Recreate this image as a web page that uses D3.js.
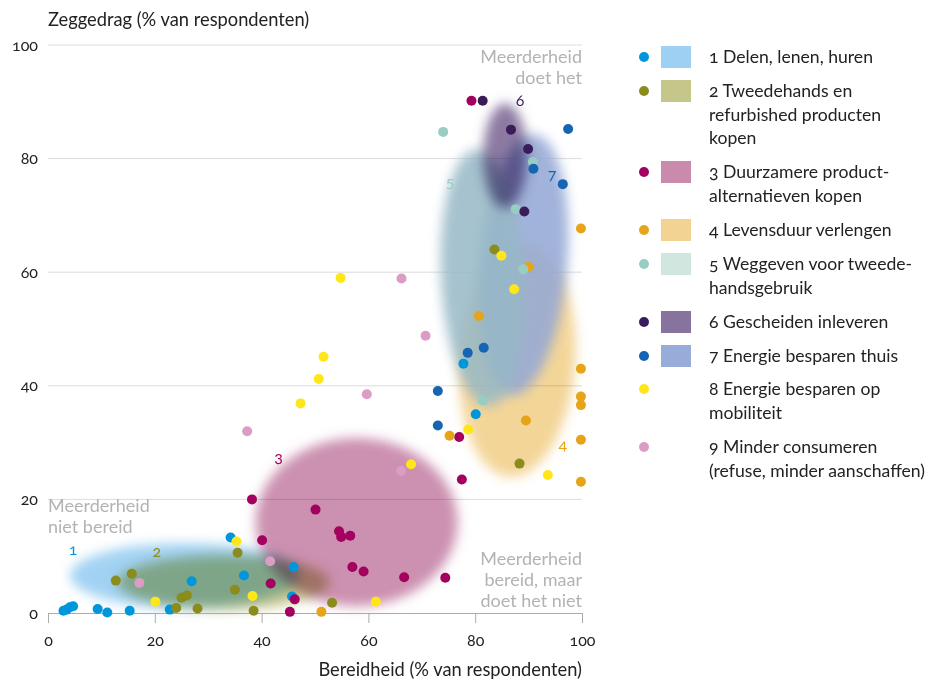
<!DOCTYPE html>
<html>
<head>
<meta charset="utf-8">
<script src="https://cdn.jsdelivr.net/npm/d3@7"></script>
<style>
  body { margin: 0; background: #fff; }
  svg text { font-family: Lato, "Noto Sans", sans-serif; font-variant-numeric: oldstyle-nums; }
</style>
</head>
<body>
<div id="chart"></div>
<script>
// series (x = bereidheid, y = zeggedrag, in %)
var labels = [
  ["1 Delen, lenen, huren"],
  ["2 Tweedehands en", "refurbished producten", "kopen"],
  ["3 Duurzamere product-", "alternatieven kopen"],
  ["4 Levensduur verlengen"],
  ["5 Weggeven voor tweede-", "handsgebruik"],
  ["6 Gescheiden inleveren"],
  ["7 Energie besparen thuis"],
  ["8 Energie besparen op", "mobiliteit"],
  ["9 Minder consumeren", "(refuse, minder aanschaffen)"]
];
var dotColors = ["#0096db", "#8b8c1e", "#a3005f", "#e6a519", "#9acdc2", "#3b1c5a", "#1565b2", "#ffe619", "#dd9cc4"];
var swatchColors = ["#9dd0f3", "#c5c68a", "#c98aac", "#f3d393", "#d0e6df", "#86739e", "#97acd8", null, null];

var delen = [[2.9,0.4],[3.5,0.6],[4.1,1.0],[4.7,1.2],[9.3,0.7],[11.1,0.1],[15.3,0.4],[22.8,0.6],[26.9,5.6],[34.2,13.3],[36.7,6.6],[46.0,8.1],[45.7,2.9],[77.8,43.9],[80.1,35.0]];
var tweedehands = [[12.7,5.7],[15.7,6.9],[24.0,0.9],[25.0,2.7],[26.0,3.1],[28.0,0.8],[35.5,10.6],[35.0,4.1],[38.5,0.4],[53.2,1.8],[83.6,64.0],[88.3,26.3]];
var duurzamer = [[38.2,20.0],[50.1,18.2],[54.5,14.4],[54.9,13.4],[56.6,13.6],[40.1,12.8],[57.0,8.1],[59.1,7.3],[41.7,5.2],[46.2,2.4],[45.3,0.2],[66.7,6.3],[74.4,6.2],[77.0,31.0],[77.5,23.5],[79.3,90.2]];
var levensduur = [[99.8,67.7],[90.0,60.9],[80.7,52.3],[99.8,43.0],[99.8,38.1],[99.8,36.6],[89.5,33.9],[75.2,31.2],[99.8,30.5],[99.8,23.1],[51.2,0.2]];
var weggeven = [[74.0,84.7],[90.8,79.4],[87.6,71.1],[89.0,60.5],[81.4,37.4]];
var gescheiden = [[81.4,90.2],[86.7,85.1],[89.9,81.7],[89.2,70.7]];
var energieThuis = [[97.4,85.2],[90.9,78.2],[96.4,75.5],[78.6,45.8],[81.6,46.7],[73.0,39.1],[73.0,33.0]];
var mobiliteit = [[20.1,2.0],[35.3,12.6],[38.3,3.0],[61.4,2.0],[47.3,36.9],[50.7,41.2],[51.6,45.1],[54.8,59.0],[68.0,26.2],[78.7,32.3],[84.9,62.9],[87.3,57.0],[93.6,24.3]];
var minder = [[17.1,5.3],[41.6,9.1],[37.3,32.0],[59.7,38.5],[66.1,25.0],[70.7,48.8],[66.2,58.9]];
var series = [delen, tweedehands, duurzamer, levensduur, weggeven, gescheiden, energieThuis, mobiliteit, minder];

// cluster areas: centre, radii (in % units) and tilt
var blobs = [
  {fill: "#9dd0f3", cx: 25.6, cy: 6.6, rx: 21.5, ry: 5.7, angle: 0, blend: "multiply", op: 0.95},
  {fill: "#c5c68a", cx: 32.9, cy: 5.4, rx: 19.8, ry: 4.8, angle: 0, blend: "multiply", op: 0.95},
  {fill: "#c98aac", cx: 57.8, cy: 16.0, rx: 18.9, ry: 14.8, angle: 0, blend: "multiply", op: 0.95},
  {fill: "#f3d393", cx: 87.9, cy: 44.4, rx: 10.8, ry: 20.5, angle: 4, blend: "multiply", op: 0.95},
  {fill: "#95a9d6", cx: 89.0, cy: 61.3, rx: 8.2, ry: 23.0, angle: 5, blend: "normal", op: 0.88},
  {fill: "#96b8c6", cx: 81.4, cy: 59.0, rx: 7.8, ry: 22.6, angle: -3, blend: "normal", op: 0.85},
  {fill: "#86739e", cx: 85.6, cy: 80.5, rx: 4.1, ry: 9.2, angle: 0, blend: "multiply", op: 0.95}
];
// number labels in the plot
var numLabels = [["1",4.7,11.2],["2",20.4,10.9],["3",43.2,27.5],["4",96.4,29.6],["5",75.3,75.9],["6",88.4,90.2],["7",94.4,77.2]];
var numColors = ["#0096db", "#8b8c1e", "#a3005f", "#e6a519", "#9acdc2", "#3b1c5a", "#1565b2"];
var ticks = [0, 20, 40, 60, 80, 100];

var width = 935, height = 680;
var margin = {left: 48, right: 353, top: 45, bottom: 67};

var svg = d3.select("#chart").append("svg")
    .attr("width", width)
    .attr("height", height);

var x = d3.scaleLinear().domain([0, 100]).range([margin.left, width - margin.right]);
var y = d3.scaleLinear().domain([0, 100]).range([height - margin.bottom, margin.top]);

var defs = svg.append("defs");
defs.append("filter").attr("id", "soft")
    .attr("x", "-30%").attr("y", "-30%").attr("width", "160%").attr("height", "160%")
    .append("feGaussianBlur").attr("stdDeviation", 6);

// gridlines
svg.append("g")
    .selectAll("line")
    .data(ticks.slice(1))
    .enter().append("line")
    .attr("x1", x(0)).attr("x2", x(100))
    .attr("y1", d => y(d)).attr("y2", d => y(d))
    .attr("stroke", "#dcdcdc").attr("stroke-width", 1);

// blobs
svg.append("g")
    .selectAll("ellipse")
    .data(blobs)
    .enter().append("ellipse")
    .attr("cx", 0).attr("cy", 0)
    .attr("rx", d => x(d.rx) - x(0))
    .attr("ry", d => y(0) - y(d.ry))
    .attr("transform", d => `translate(${x(d.cx)},${y(d.cy)}) rotate(${d.angle})`)
    .attr("fill", d => d.fill)
    .attr("filter", "url(#soft)")
    .style("mix-blend-mode", d => d.blend)
    .attr("opacity", d => d.op);

// x axis
var xAxis = d3.axisBottom(x).tickValues(ticks).tickSize(10).tickPadding(12);
var gx = svg.append("g")
    .attr("transform", `translate(0,${y(0)})`)
    .call(xAxis);
gx.select(".domain").attr("stroke", "#aaa");
gx.selectAll(".tick line").attr("stroke", "#aaa");
gx.selectAll(".tick text").attr("font-size", 16).attr("fill", "#222");

// y axis labels
var yAxis = d3.axisLeft(y).tickValues(ticks).tickSize(0).tickPadding(10);
var gy = svg.append("g")
    .attr("transform", `translate(${x(0)},0)`)
    .call(yAxis);
gy.select(".domain").remove();
gy.selectAll(".tick text").attr("font-size", 16).attr("fill", "#222");

// points
series.forEach(function (pts, i) {
  svg.append("g")
      .selectAll("circle")
      .data(pts)
      .enter().append("circle")
      .attr("cx", d => x(d[0]))
      .attr("cy", d => y(d[1]))
      .attr("r", 5)
      .attr("fill", dotColors[i]);
});

// number labels
svg.append("g")
    .selectAll("text")
    .data(numLabels)
    .enter().append("text")
    .attr("x", d => x(d[1]))
    .attr("y", d => y(d[2]))
    .attr("dy", "0.35em")
    .attr("text-anchor", "middle")
    .attr("font-size", 16)
    .attr("fill", (d, i) => numColors[i])
    .text(d => d[0]);

// corner notes
function note(lines, px, py, anchor) {
  var t = svg.append("text")
      .attr("x", px).attr("y", py)
      .attr("text-anchor", anchor)
      .attr("font-size", 18)
      .attr("fill", "#b3b3b3");
  lines.forEach(function (l, i) {
    t.append("tspan").attr("x", px).attr("dy", i ? 21 : 0).text(l);
  });
}
note(["Meerderheid", "doet het"], x(100), 63, "end");
note(["Meerderheid", "niet bereid"], x(0), 512, "start");
note(["Meerderheid", "bereid, maar", "doet het niet"], x(100), 565, "end");

// axis titles
svg.append("text")
    .attr("x", x(0)).attr("y", 26)
    .attr("font-size", 18.3).attr("fill", "#222")
    .text("Zeggedrag (% van respondenten)");
svg.append("text")
    .attr("x", x(100)).attr("y", 676)
    .attr("text-anchor", "end")
    .attr("font-size", 18.3).attr("fill", "#222")
    .text("Bereidheid (% van respondenten)");

// legend
var legendY = [57, 91, 172, 230, 264, 322, 356, 389, 447];
var legend = svg.append("g")
    .selectAll("g")
    .data(labels)
    .enter().append("g")
    .attr("transform", (d, i) => `translate(644,${legendY[i]})`);
legend.append("circle")
    .attr("r", 5)
    .attr("fill", (d, i) => dotColors[i]);
legend.filter((d, i) => swatchColors[i])
    .append("rect")
    .attr("x", 17).attr("y", -11)
    .attr("width", 30).attr("height", 22)
    .attr("fill", d => swatchColors[labels.indexOf(d)]);
legend.append("text")
    .attr("x", 65)
    .attr("y", 6)
    .attr("font-size", 17.6)
    .attr("fill", "#222")
    .selectAll("tspan")
    .data(d => d)
    .enter().append("tspan")
    .attr("x", 65)
    .attr("dy", (d, i) => i ? 23.7 : 0)
    .text(d => d);
</script>
</body>
</html>
